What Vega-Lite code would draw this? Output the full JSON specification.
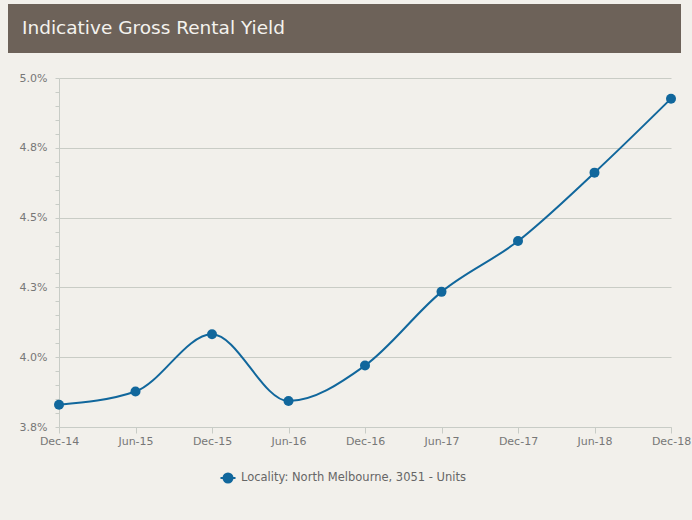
{
  "$schema": "https://vega.github.io/schema/vega-lite/v6.json",
  "background": "#f2f0eb",
  "padding": {"left": 8, "top": 4, "right": 4, "bottom": 35},
  "spacing": 19,
  "config": {"font": "DejaVu Sans", "view": {"stroke": null}},
  "vconcat": [
    {
      "width": 612,
      "height": 49,
      "data": {"values": [{"h": 1}]},
      "mark": {"type": "rect", "color": "#6d6259", "x": -51, "x2": 622},
      "title": {
        "text": "Indicative Gross Rental Yield",
        "anchor": "start",
        "orient": "top",
        "frame": "group",
        "offset": -48,
        "baseline": "alphabetic",
        "dx": -37,
        "color": "#f4f2ee",
        "fontSize": 18.5,
        "fontWeight": "normal"
      }
    },
    {
      "width": 612,
      "height": 349,
      "data": {
        "values": [
          {"period": "Dec-14", "yield": 3.830, "series": "Locality: North Melbourne, 3051 - Units"},
          {"period": "Jun-15", "yield": 3.877, "series": "Locality: North Melbourne, 3051 - Units"},
          {"period": "Dec-15", "yield": 4.082, "series": "Locality: North Melbourne, 3051 - Units"},
          {"period": "Jun-16", "yield": 3.843, "series": "Locality: North Melbourne, 3051 - Units"},
          {"period": "Dec-16", "yield": 3.970, "series": "Locality: North Melbourne, 3051 - Units"},
          {"period": "Jun-17", "yield": 4.234, "series": "Locality: North Melbourne, 3051 - Units"},
          {"period": "Dec-17", "yield": 4.416, "series": "Locality: North Melbourne, 3051 - Units"},
          {"period": "Jun-18", "yield": 4.661, "series": "Locality: North Melbourne, 3051 - Units"},
          {"period": "Dec-18", "yield": 4.926, "series": "Locality: North Melbourne, 3051 - Units"}
        ]
      },
      "encoding": {
        "x": {
          "field": "period",
          "type": "ordinal",
          "sort": null,
          "scale": {"type": "point", "padding": 0},
          "axis": {
            "title": null,
            "labelAngle": 0,
            "tickSize": 6,
            "labelPadding": 2,
            "labelColor": "#777777",
            "labelFontSize": 11,
            "domainColor": "#c8ccc6",
            "tickColor": "#c8ccc6",
            "grid": false
          }
        },
        "y": {
          "field": "yield",
          "type": "quantitative",
          "scale": {"domain": [3.75, 5.0], "nice": false, "zero": false},
          "axis": {
            "title": null,
            "values": [3.75, 3.8, 3.85, 3.9, 3.95, 4.0, 4.05, 4.1, 4.15, 4.2, 4.25, 4.3, 4.35, 4.4, 4.45, 4.5, 4.55, 4.6, 4.65, 4.7, 4.75, 4.8, 4.85, 4.9, 4.95, 5.0],
            "labelExpr": "abs(datum.value*4-round(datum.value*4))<0.001 ? format(datum.value,'.1f')+'%' : ''",
            "tickSize": 4,
            "labelPadding": 8,
            "minExtent": 51,
            "labelColor": "#777777",
            "labelFontSize": 11,
            "domainColor": "#c8ccc6",
            "tickColor": "#c8ccc6",
            "grid": true,
            "gridColor": "#c9ccc5",
            "gridOpacity": {"condition": {"test": "abs(datum.value*4-round(datum.value*4))<0.001", "value": 1}, "value": 0}
          }
        },
        "color": {
          "field": "series",
          "type": "nominal",
          "scale": {"range": ["#11679c"]},
          "legend": {
            "title": null,
            "orient": "none",
            "legendX": 163,
            "legendY": 468,
            "labelLimit": 400,
            "labelOffset": 7,
            "symbolType": "M-1.5,0L1.5,0M0.9,0A0.9,0.9,0,1,1,-0.9,0A0.9,0.9,0,1,1,0.9,0Z",
            "symbolSize": 100,
            "symbolFillColor": "#11679c",
            "symbolStrokeColor": "#11679c",
            "symbolStrokeWidth": 2,
            "labelFontSize": 11.5,
            "labelColor": "#666666"
          }
        }
      },
      "layer": [
        {"mark": {"type": "line", "interpolate": "monotone", "strokeWidth": 2}},
        {"mark": {"type": "point", "filled": true, "size": 100, "opacity": 1}}
      ]
    }
  ]
}
